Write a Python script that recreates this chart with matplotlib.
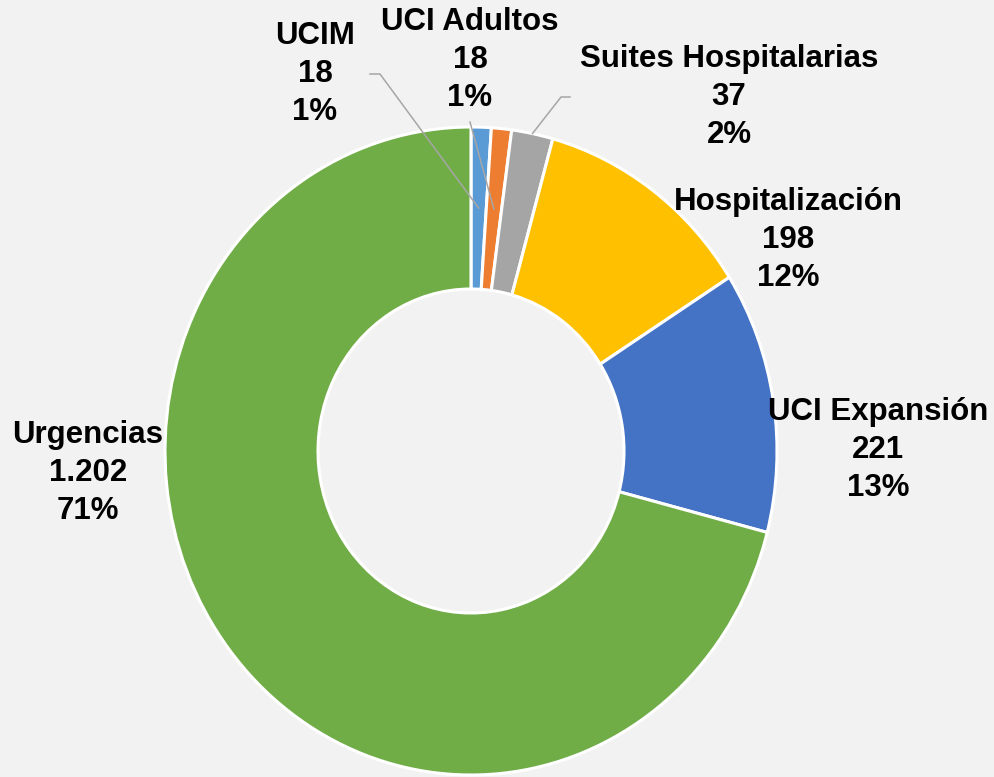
import numpy as np
import matplotlib
matplotlib.use('Agg')
import matplotlib.pyplot as plt

labels = ['UCIM', 'UCI Adultos', 'Suites Hospitalarias', 'Hospitalización', 'UCI Expansión', 'Urgencias']
values = [18, 18, 37, 198, 221, 1202]
value_text = ['18', '18', '37', '198', '221', '1.202']
colors = ['#5B9BD5', '#ED7D31', '#A5A5A5', '#FFC000', '#4472C4', '#70AD47']

W, H = 994, 777
# ring geometry in pixels (slightly taller than wide, like the original)
cx, cy, rx, ry = 471, 451, 306, 324

fig = plt.figure(figsize=(W / 100, H / 100), dpi=100, facecolor='#F2F2F2')
ax = fig.add_axes([(cx - rx) / W, (H - cy - ry) / H, 2 * rx / W, 2 * ry / H])
ax.set_facecolor('#F2F2F2')

wedges, _ = ax.pie(values, colors=colors, startangle=90, counterclock=False,
                   radius=1.0, wedgeprops=dict(width=0.5, edgecolor='white', linewidth=2.2))
ax.set_aspect('auto')
ax.set_xlim(-1, 1)
ax.set_ylim(-1, 1)


def px(x, y):
    return (x - cx) / rx, (cy - y) / ry


def on_ring(i, r):
    w = wedges[i]
    a = np.deg2rad((w.theta1 + w.theta2) / 2)
    return r * np.cos(a), r * np.sin(a)


total = sum(values)
# label centres (pixels)
label_pos = [(315, 74), (470, 60), (729, 97), (788, 240), (878, 450), (88, 473)]
for i, name in enumerate(labels):
    pct = round(100 * values[i] / total)
    x, y = px(*label_pos[i])
    ax.text(x, y, f'{name}\n{value_text[i]}\n{pct}%', ha='center', va='center',
            fontsize=22.5, fontweight='bold', family='Liberation Sans',
            linespacing=1.34, color='black', clip_on=False)

lc = '#A6A6A6'
# UCIM leader
p0 = px(370, 74)
p1 = px(380, 74)
p2 = on_ring(0, 0.75)
ax.plot([p0[0], p1[0], p2[0]], [p0[1], p1[1], p2[1]], color=lc, lw=1.1, clip_on=False)
# UCI Adultos leader
p0 = px(470, 122)
p2 = on_ring(1, 0.75)
ax.plot([p0[0], p2[0]], [p0[1], p2[1]], color=lc, lw=1.1, clip_on=False)
# Suites leader
p0 = px(570, 97)
p1 = px(561, 97)
p2 = on_ring(2, 1.0)
ax.plot([p0[0], p1[0], p2[0]], [p0[1], p1[1], p2[1]], color=lc, lw=1.1, clip_on=False)

fig.savefig('out.png', dpi=100, facecolor=fig.get_facecolor())
